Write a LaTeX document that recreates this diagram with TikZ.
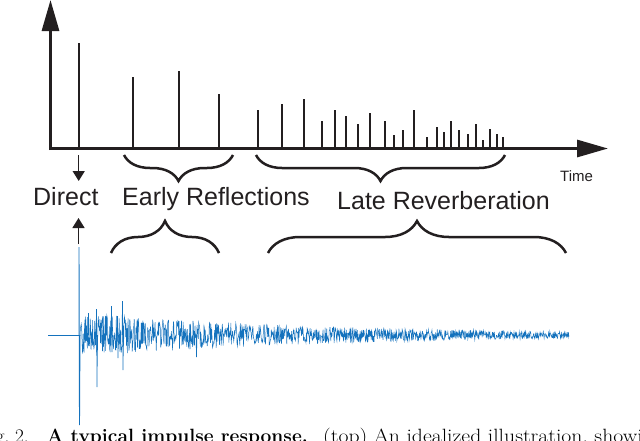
\documentclass[tikz,border=0pt]{standalone}
\usepackage{fontspec}
\newfontfamily\labelfont{Liberation Sans}
\usetikzlibrary{arrows.meta,decorations.pathreplacing}
\definecolor{ink}{RGB}{35,31,32}
\definecolor{wave}{RGB}{20,114,189}
\begin{document}
\begin{tikzpicture}[x=1pt,y=-1pt,
  spike/.style={ink, line width=2pt},
  axisline/.style={ink, line width=3pt, -{Triangle[length=31pt,width=17pt]}},
  pointer/.style={ink, line width=1.5pt, -{Triangle[length=10pt,width=12pt]}},
  bracetop/.style={ink, line width=2.5pt, decorate, decoration={brace, amplitude=26pt}},
  bracelow/.style={ink, line width=2.5pt, decorate, decoration={brace, amplitude=32pt}},
  lbl/.style={font=\labelfont\fontsize{25}{30}\selectfont, text=ink, inner sep=0pt, anchor=base west},
  small/.style={font=\labelfont\fontsize{15}{18}\selectfont, text=ink, inner sep=0pt, anchor=base west},
  captext/.style={font=\fontsize{19.2}{22}\selectfont, inner sep=0pt},
  wavestyle/.style={wave, line width=0.5pt},
]
\clip (0,0) rectangle (640,440);
% axes
\coordinate (yfoot) at (50.5,150);
\coordinate (ytop) at (50.5,0);
\coordinate (xfoot) at (49,148.5);
\coordinate (xtip) at (608,148.5);
\draw[axisline] (yfoot) -- (ytop);
\draw[axisline] (xfoot) -- (xtip);
% idealized impulses
\foreach \x/\h in {78.7/43,133/77,179/71,219/94,
  258/110,282/104,304/99,322/121,335/110,346/116,358/124,370/113,385/121,394/135,
  403/130,414/110,427/137,437/127,444/132,451/121,459/130,468/134,476/124,483/140,
  490/129,497/134,503/137}
  \draw[spike] (\x,148) -- (\x,\h);
% braces (top)
\coordinate (eR) at (233,155); \coordinate (eL) at (124,155);
\coordinate (lR) at (505,155); \coordinate (lL) at (256,155);
\draw[bracetop] (eR) -- (eL);
\draw[bracetop] (lR) -- (lL);
% labels
\node[lbl] (direct) at (33,205) {Direct};
\node[lbl] (early) at (122,205) {Early Reflections};
\node[lbl] (late) at (337,209) {Late Reverberation};
\node[small] (time) at (560,181) {Time};
% pointers
\coordinate (dA) at (78.7,155); \coordinate (dB) at (78.7,181);
\draw[pointer] (dA) -- (dB);
\coordinate (uA) at (78.5,244); \coordinate (uB) at (78.5,218);
\draw[pointer] (uA) -- (uB);
% braces (bottom)
\coordinate (beL) at (111,253); \coordinate (beR) at (219,253);
\coordinate (blL) at (268,253); \coordinate (blR) at (566,253);
\draw[bracelow] (beL) -- (beR);
\draw[bracelow] (blL) -- (blR);
% measured impulse response
\draw[wavestyle] (48,335) -- (79,335);
\pgfmathsetseed{11}
\draw[wavestyle] plot[domain=80:569, samples=1200, variable=\t] (\t,{335+22*exp(-(\t-80)/260)*rand});
\draw[wave, line width=0.9pt] (79,335) -- (79,247) -- (79.5,425) -- (80,335);
\draw[wave, line width=0.6pt] (88,335) -- (88.5,313) -- (89,340)
  (96,335) -- (96.5,309) -- (97,387) -- (97.5,335)
  (102,335) -- (102.5,351) -- (103,330)
  (111,335) -- (111.5,306) -- (112,352) -- (112.5,335)
  (117,335) -- (117.5,316) -- (118,358) -- (118.5,335)
  (122,335) -- (122.5,301) -- (123,370) -- (123.5,335)
  (196,335) -- (196.5,357) -- (197,335);
% caption (cut off by the frame)
\node[captext, anchor=base east] (capA) at (29,442) {Fig.~2.};
\node[captext, anchor=base west] (capB) at (47,442) {\bfseries A typical impulse response.};
\node[captext, anchor=base west] (capC) at (323,442) {\scalebox{1.13}[1]{(top) An idealized illustration, showing}};
\end{tikzpicture}
\end{document}
